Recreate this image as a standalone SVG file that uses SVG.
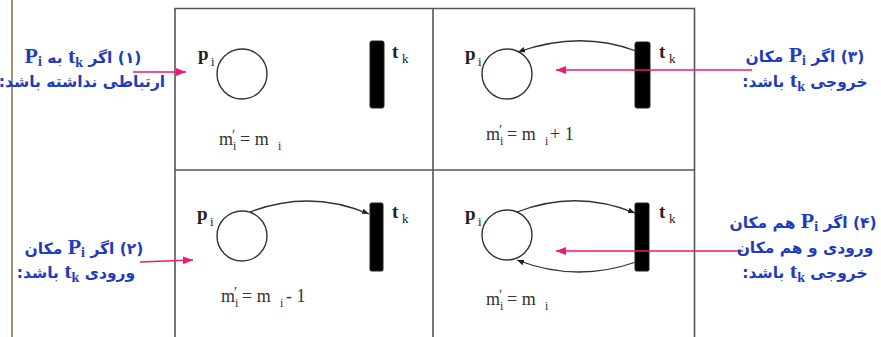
<svg xmlns="http://www.w3.org/2000/svg" width="881" height="337" viewBox="0 0 881 337">
<style>
.frame{fill:none;stroke:#555;stroke-width:1.6}
.place{fill:none;stroke:#333;stroke-width:1.4}
.bar{fill:#000;stroke:#222;stroke-width:1}
.arc{fill:none;stroke:#333;stroke-width:1.3}
.ptr{fill:none;stroke:#EC1A72;stroke-width:1.3}
.pb{font-family:"Liberation Serif","DejaVu Serif",serif;font-weight:bold;font-size:19px;fill:#222}
.fm{font-family:"Liberation Serif","DejaVu Serif",serif;font-size:18px;fill:#333}
.lbl{font-family:"DejaVu Sans",sans-serif;font-weight:bold;font-size:15.5px;fill:#1F3CC0}
.lat{font-family:"Liberation Serif",serif;font-weight:bold;font-size:22px}
.sub{font-family:"Liberation Serif",serif;font-weight:bold;font-size:14px}
</style>
<defs>
<marker id="ah" viewBox="0 0 10 10" refX="10" refY="5" markerWidth="7" markerHeight="7" markerUnits="userSpaceOnUse" orient="auto">
<path d="M0,1 L10,5 L0,9 Z" fill="#222"/>
</marker>
<marker id="ph" viewBox="0 0 10 10" refX="10" refY="5" markerWidth="10" markerHeight="10" markerUnits="userSpaceOnUse" orient="auto">
<path d="M0,1 L10,5 L0,9 Z" fill="#EC1A72"/>
</marker>
</defs>

<line x1="12" y1="0" x2="12" y2="337" stroke="#8B6B4A" stroke-width="1.5"/>

<g id="frame">
<path class="frame" d="M175,337 V8.5 H694.5 V337"/>
<line class="frame" x1="433" y1="8.5" x2="433" y2="337"/>
<line class="frame" x1="175" y1="170" x2="694.5" y2="170"/>
</g>

<g id="cell1">
<circle class="place" cx="242" cy="74" r="25"/>
<rect class="bar" x="370" y="41" width="14" height="67" rx="2"/>
<text class="pb" x="198" y="60">p<tspan x="211" y="66" font-size="13" font-weight="normal">i</tspan></text>
<text class="pb" x="392" y="58">t<tspan x="402" y="63" font-size="13" font-weight="normal">k</tspan></text>
<text class="fm" x="219" y="145">m<tspan x="232" y="140" font-size="14">′</tspan><tspan x="233" y="150" font-size="12">i</tspan><tspan x="240" y="145">= m</tspan><tspan x="278" y="150" font-size="12">i</tspan></text>
</g>

<g id="cell2">
<circle class="place" cx="507" cy="74" r="25"/>
<rect class="bar" x="635" y="42" width="15" height="66" rx="2"/>
<text class="pb" x="465" y="60">p<tspan x="478" y="66" font-size="13" font-weight="normal">i</tspan></text>
<text class="pb" x="659" y="58">t<tspan x="669" y="63" font-size="13" font-weight="normal">k</tspan></text>
<text class="fm" x="486" y="140">m<tspan x="499" y="135" font-size="14">′</tspan><tspan x="500" y="145" font-size="12">i</tspan><tspan x="507" y="140">= m</tspan><tspan x="545" y="145" font-size="12">i</tspan><tspan x="550" y="140">+ 1</tspan></text>
</g>

<g id="cell3">
<circle class="place" cx="242" cy="236" r="25"/>
<rect class="bar" x="370" y="203" width="13" height="68" rx="1.5"/>
<text class="pb" x="197" y="220">p<tspan x="210" y="226" font-size="13" font-weight="normal">i</tspan></text>
<text class="pb" x="392" y="218">t<tspan x="402" y="223" font-size="13" font-weight="normal">k</tspan></text>
<text class="fm" x="221" y="302">m<tspan x="234" y="297" font-size="14">′</tspan><tspan x="235" y="307" font-size="12">i</tspan><tspan x="242" y="302">= m</tspan><tspan x="280" y="307" font-size="12">i</tspan><tspan x="286" y="302">- 1</tspan></text>
</g>

<g id="cell4">
<circle class="place" cx="507" cy="235" r="25"/>
<rect class="bar" x="635" y="203" width="14" height="68" rx="1.5"/>
<text class="pb" x="465" y="220">p<tspan x="478" y="226" font-size="13" font-weight="normal">i</tspan></text>
<text class="pb" x="659" y="218">t<tspan x="669" y="223" font-size="13" font-weight="normal">k</tspan></text>
<text class="fm" x="486" y="305">m<tspan x="499" y="300" font-size="14">′</tspan><tspan x="500" y="310" font-size="12">i</tspan><tspan x="507" y="305">= m</tspan><tspan x="545" y="310" font-size="12">i</tspan></text>
</g>

<g id="connectors">
<path class="arc" d="M636,51 Q580,30 518,52" marker-end="url(#ah)"/>
<path class="arc" d="M250,212 Q310,189 369,214" marker-end="url(#ah)"/>
<path class="arc" d="M517,212 Q576,189 635,213" marker-end="url(#ah)"/>
<path class="arc" d="M636,262 Q576,283 517,260" marker-end="url(#ah)"/>
<line class="ptr" x1="133" y1="72" x2="186" y2="72" marker-end="url(#ph)"/>
<line class="ptr" x1="140" y1="262" x2="193" y2="260" marker-end="url(#ph)"/>
<line class="ptr" x1="752" y1="70" x2="556" y2="70" marker-end="url(#ph)"/>
<line class="ptr" x1="743" y1="251" x2="556" y2="251" marker-end="url(#ph)"/>
</g>

<g id="label1">
<text class="lbl" x="83" y="63" direction="rtl" text-anchor="middle">(۱) اگر <tspan class="lat">t</tspan><tspan class="sub" baseline-shift="-4">k</tspan> به <tspan class="lat">P</tspan><tspan class="sub" baseline-shift="-3">i</tspan></text>
<text class="lbl" x="82" y="87" direction="rtl" text-anchor="middle">ارتباطی نداشته باشد:</text>
</g>
<g id="label2">
<text class="lbl" x="84" y="254" direction="rtl" text-anchor="middle">(۲) اگر <tspan class="lat">P</tspan><tspan class="sub" baseline-shift="-3">i</tspan> مکان</text>
<text class="lbl" x="76" y="278" direction="rtl" text-anchor="middle">ورودی <tspan class="lat">t</tspan><tspan class="sub" baseline-shift="-4">k</tspan> باشد:</text>
</g>
<g id="label3">
<text class="lbl" x="805" y="62" direction="rtl" text-anchor="middle">(۳) اگر <tspan class="lat">P</tspan><tspan class="sub" baseline-shift="-3">i</tspan> مکان</text>
<text class="lbl" x="805" y="87" direction="rtl" text-anchor="middle">خروجی <tspan class="lat">t</tspan><tspan class="sub" baseline-shift="-4">k</tspan> باشد:</text>
</g>
<g id="label4">
<text class="lbl" x="803" y="228" direction="rtl" text-anchor="middle">(۴) اگر <tspan class="lat">P</tspan><tspan class="sub" baseline-shift="-3">i</tspan> هم مکان</text>
<text class="lbl" x="805" y="253" direction="rtl" text-anchor="middle">ورودی و هم مکان</text>
<text class="lbl" x="805" y="278" direction="rtl" text-anchor="middle">خروجی <tspan class="lat">t</tspan><tspan class="sub" baseline-shift="-4">k</tspan> باشد:</text>
</g>
</svg>
